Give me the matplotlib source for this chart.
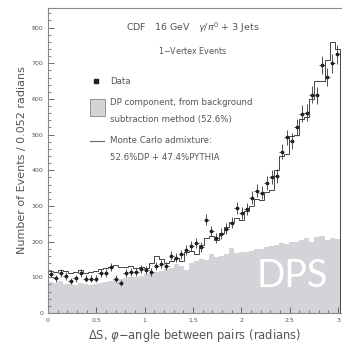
import numpy as np
import matplotlib.pyplot as plt

bin_width = 0.052
n_bins = 58

# data points (events per bin)
data = [110, 98, 112, 104, 90, 98, 112, 96, 96, 96,
        112, 112, 129, 96, 84, 112, 115, 115, 124, 120,
        115, 132, 137, 132, 160, 155, 165, 177, 188, 197,
        185, 262, 230, 211, 222, 236, 253, 295, 281, 292,
        323, 343, 337, 365, 380, 385, 452, 492, 483, 520,
        559, 562, 612, 610, 695, 662, 700, 725]

# Monte Carlo admixture histogram
mc = [118, 115, 120, 118, 112, 115, 120, 112, 115, 118,
      122, 125, 128, 135, 128, 130, 132, 125, 128, 125,
      140, 160, 150, 140, 145, 155, 145, 170, 175, 165,
      190, 210, 215, 205, 225, 240, 255, 265, 260, 285,
      300, 320, 318, 340, 345, 400, 440, 445, 495, 500,
      545, 550, 600, 650, 650, 710, 760, 740]

# DP component (background subtraction)
dp = [88, 85, 90, 82, 80, 78, 85, 80, 78, 82,
      85, 88, 90, 92, 95, 98, 100, 102, 105, 108,
      112, 115, 118, 122, 125, 138, 132, 120, 140, 145,
      150, 148, 165, 158, 160, 165, 183, 168, 170, 172,
      175, 178, 180, 185, 188, 190, 195, 192, 198, 200,
      205, 210, 200, 212, 215, 205, 210, 208]

edges = np.arange(n_bins + 1) * bin_width
centers = edges[:-1] + bin_width / 2
data = np.array(data)

txt = '#555555'
fig = plt.figure(figsize=(3.43, 3.47), dpi=100)
ax = fig.add_axes([0.14, 0.098, 0.854, 0.879])

ax.stairs(dp, edges, fill=True, color='#d4d4d8', lw=0)
ax.stairs(mc, edges, color='#444444', lw=0.7)
ax.errorbar(centers, data, yerr=np.sqrt(data), xerr=bin_width / 2, fmt='s',
            ms=1.7, color='#222222', ecolor='#333333', elinewidth=0.6, capsize=0)

ax.set_xlim(0, 3.03)
ax.set_ylim(0, 855)
ax.set_xticks([0, 0.5, 1, 1.5, 2, 2.5, 3])
ax.set_xticklabels(['0', '0.5', '1', '1.5', '2', '2.5', '3'])
ax.set_xticks(np.arange(0, 3.05, 0.1), minor=True)
ax.set_yticks([0, 100, 200, 300, 400, 500, 600, 700, 800])
ax.set_yticks(np.arange(0, 855, 20), minor=True)
ax.tick_params(which='both', direction='in', colors=txt, labelsize=4.5)
ax.tick_params(which='major', length=4, width=0.6)
ax.tick_params(which='minor', length=2, width=0.5)
for s in ['left', 'bottom', 'top']:
    ax.spines[s].set_color('#888888')
    ax.spines[s].set_linewidth(0.8)
ax.spines['right'].set_visible(False)

ax.set_xlabel(r'$\Delta$S, $\varphi$$-$angle between pairs (radians)', fontsize=8.3, color=txt, labelpad=3)
ax.set_ylabel('Number of Events / 0.052 radians', fontsize=8, color=txt, labelpad=3)

ax.text(1.5, 800, r'CDF   16 GeV   $\gamma/\pi^0$ + 3 Jets', ha='center', va='center', fontsize=6.8, color=txt)
ax.text(1.5, 735, '1$-$Vertex Events', ha='center', va='center', fontsize=5.8, color=txt)

# legend drawn by hand
ax.plot([0.5], [650], 's', ms=3, color='#222222')
ax.text(0.64, 650, 'Data', va='center', fontsize=6.2, color=txt)
ax.add_patch(plt.Rectangle((0.43, 553), 0.16, 48, facecolor='#d4d4d8', edgecolor='#888888', lw=0.6))
ax.text(0.64, 590, 'DP component, from background', va='center', fontsize=6.2, color=txt)
ax.text(0.64, 543, 'subtraction method (52.6%)', va='center', fontsize=6.2, color=txt)
ax.plot([0.43, 0.58], [483, 483], color='#666666', lw=0.8)
ax.text(0.64, 483, 'Monte Carlo admixture:', va='center', fontsize=6.2, color=txt)
ax.text(0.64, 436, '52.6%DP + 47.4%PYTHIA', va='center', fontsize=6.2, color=txt)

ax.text(2.53, 104, 'DPS', ha='center', va='center', fontsize=27, color='white',
        family='Lato')

fig.savefig('out.png', dpi=100)
